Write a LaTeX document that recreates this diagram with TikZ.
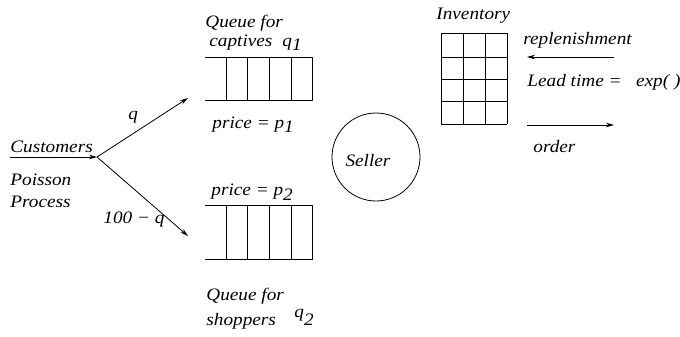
\documentclass[tikz,border=0pt]{standalone}
\usepackage{fontspec}
\setmainfont{Liberation Serif}[FakeStretch=1.1]
\usetikzlibrary{arrows.meta}

\begin{document}
\begin{tikzpicture}[x=1pt, y=-1pt, font=\itshape\fontsize{17.5}{20}\selectfont, line width=0.8pt, line join=round, >={Stealth[length=8pt,width=4.5pt]}]
	\tikzset{lbl/.style={anchor=base west, inner sep=0pt}}
	\useasboundingbox (0,0) rectangle (680,337);
	% arrivals
	\coordinate (src) at (10,157);
	\coordinate (fork) at (97,157);
	\coordinate (in1) at (188,98);
	\coordinate (in2) at (188,236);
	\draw[->] (src) -- (fork);
	\draw[->] (fork) -- (in1);
	\draw[->] (fork) -- (in2);
	\node[lbl] (cust) at (10,152) {Customers};
	\node[lbl] (poi) at (10,185) {Poisson};
	\node[lbl] (proc) at (10,207) {Process};
	\node[lbl] (qa) at (128,119) {q};
	\node[lbl] (qb) at (103,223) {100 − q};
	% captive queue
	\draw (205,57) -- (312,57) -- (312,100) -- (205,100);
	\foreach \x in {226,247,269,291} \draw (\x,57) -- (\x,100);
	\node[lbl] (cap1) at (205,28) {Queue for};
	\node[lbl] (cap2) at (209,47) {captives};
	\node[lbl] (q1) at (282,47) {q\raisebox{-4pt}{1}};
	\node[lbl] (pr1) at (212,128) {price = p\raisebox{-5pt}{1}};
	% shopper queue
	\draw (205,205) -- (312,205) -- (312,259) -- (205,259);
	\foreach \x in {226,247,269,291} \draw (\x,205) -- (\x,259);
	\node[lbl] (pr2) at (211,195) {price = p\raisebox{-5pt}{2}};
	\node[lbl] (shp1) at (206,300) {Queue for};
	\node[lbl] (shp2) at (206,325) {shoppers};
	\node[lbl] (q2) at (294,317) {q\raisebox{-8pt}{2}};
	% seller
	\node[draw, circle, minimum size=88pt, inner sep=0pt] (seller) at (376,157) {};
	\node (sel) at (368,161) {Seller};
	% inventory
	\foreach \x in {441,463,485,507} \draw (\x,33) -- (\x,124);
	\foreach \y in {33,57,79,101,124} \draw (441,\y) -- (507,\y);
	\node[lbl] (inv) at (436,20) {Inventory};
	\coordinate (repA) at (614,57);
	\coordinate (repB) at (527,57);
	\coordinate (ordA) at (527,125);
	\coordinate (ordB) at (614,125);
	\draw[->] (repA) -- (repB);
	\draw[->] (ordA) -- (ordB);
	\node[lbl] (rep) at (523,45) {replenishment};
	\node[lbl] (lead) at (527,86) {Lead time = \ \ exp( )};
	\node[lbl] (ord) at (533,152) {order};
\end{tikzpicture}
\end{document}
